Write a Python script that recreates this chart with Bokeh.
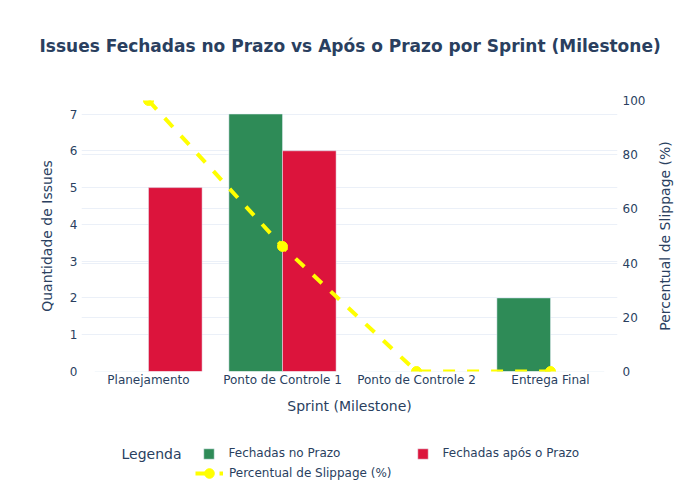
from bokeh.plotting import figure
from bokeh.layouts import column, row
from bokeh.models import (FactorRange, Range1d, LinearAxis, Legend, LegendItem, Label, Title,
                          ColumnDataSource, Grid, FixedTicker)
from bokeh.transform import dodge
from bokeh.embed import file_html
from bokeh.resources import INLINE

# ---- data ----
sprints = ["Planejamento", "Ponto de Controle 1", "Ponto de Controle 2", "Entrega Final"]
fechadas_no_prazo = [0, 7, 0, 2]
fechadas_apos_prazo = [5, 6, 0, 0]
slippage_pct = [100.0, 46.15, 0.0, 0.0]
left_ticks = [0, 1, 2, 3, 4, 5, 6, 7]
right_ticks = [0, 20, 40, 60, 80, 100]

FONT = "DejaVu Sans"
TXT = "#2a3f5f"
GRID = "#EBF0F8"
GREEN = "#2E8B57"
RED = "#DC143C"
YELLOW = "#FFFF00"
W = 684
MAIN_W = 654
MAIN_H = 366


def bare_fig(w, h, top=0, left=0):
    f = figure(width=w, height=h, x_range=Range1d(0, 1), y_range=Range1d(0, 1),
               output_backend="svg", toolbar_location=None,
               x_axis_location=None, y_axis_location=None,
               min_border_left=left, min_border_right=0,
               min_border_top=top, min_border_bottom=0)
    f.grid.visible = False
    f.outline_line_color = None
    return f


# ---- title strip (title lives in the side panel, so it is not clipped) ----
tf = bare_fig(W, 60, top=55, left=81)
tf.title.text = "Issues Fechadas no Prazo vs Após o Prazo por Sprint (Milestone)"
tf.title.align = "left"
tf.title.offset = -42
tf.title.vertical_align = "bottom"
tf.title.standoff = 0
tf.title.text_font = FONT
tf.title.text_font_size = "17px"
tf.title.text_font_style = "bold"
tf.title.text_color = TXT

# ---- main chart ----
src = ColumnDataSource(dict(sprint=sprints, no=fechadas_no_prazo,
                            apos=fechadas_apos_prazo, slip=slippage_pct))

p = figure(width=MAIN_W, height=MAIN_H,
           x_range=FactorRange(factors=sprints, range_padding=0),
           y_range=Range1d(0, 7.368),
           output_backend="svg", toolbar_location=None,
           min_border_left=81, min_border_right=37,
           min_border_top=40, min_border_bottom=55)
p.extra_y_ranges = {"pct": Range1d(0, 100)}
p.outline_line_color = None


def style_axis(ax):
    ax.axis_line_color = None
    ax.major_tick_line_color = None
    ax.minor_tick_line_color = None
    ax.major_tick_in = 0
    ax.major_tick_out = 0
    ax.major_label_text_font = FONT
    ax.major_label_text_font_size = "12px"
    ax.major_label_text_color = TXT
    ax.axis_label_text_font = FONT
    ax.axis_label_text_font_size = "14px"
    ax.axis_label_text_font_style = "normal"
    ax.axis_label_text_color = TXT


p.xaxis.axis_label = "Sprint (Milestone)"
p.yaxis.axis_label = "Quantidade de Issues"
p.yaxis.ticker = FixedTicker(ticks=left_ticks)
style_axis(p.xaxis[0])
style_axis(p.yaxis[0])
p.xaxis.major_label_standoff = 1
p.xaxis.axis_label_standoff = 8
p.yaxis.major_label_standoff = 4
p.yaxis.axis_label_standoff = 12

right_axis = LinearAxis(y_range_name="pct", ticker=FixedTicker(ticks=right_ticks))
style_axis(right_axis)
right_axis.major_label_standoff = 5
p.add_layout(right_axis, "right")

p.xgrid.grid_line_color = None
p.ygrid.grid_line_color = GRID
p.ygrid.ticker = FixedTicker(ticks=left_ticks)
p.add_layout(Grid(dimension=1, ticker=FixedTicker(ticks=right_ticks),
                  y_range_name="pct", grid_line_color=GRID))

p.vbar(x=dodge("sprint", -0.2, range=p.x_range), top="no", width=0.4, source=src,
       fill_color=GREEN, line_color="#E5ECF6", line_width=0.5)
p.vbar(x=dodge("sprint", 0.2, range=p.x_range), top="apos", width=0.4, source=src,
       fill_color=RED, line_color="#E5ECF6", line_width=0.5)
p.line("sprint", "slip", source=src, y_range_name="pct",
       line_color=YELLOW, line_width=4, line_dash="12 12")
p.scatter("sprint", "slip", source=src, y_range_name="pct",
          size=10, fill_color=YELLOW, line_color=YELLOW)

# ---- right strip: secondary axis title, reading bottom-to-top ----
rs = bare_fig(W - MAIN_W, MAIN_H, top=40, left=16)
rs.min_border_bottom = 55
rs.add_layout(Title(text="Percentual de Slippage (%)", align="center",
                    vertical_align="bottom", standoff=0, text_font=FONT,
                    text_font_size="14px", text_font_style="normal",
                    text_color=TXT), "left")

# ---- legend strip (swatch renderers sit outside the strip's visible range) ----
lf = bare_fig(W, 58, left=81)
proxy = ColumnDataSource(dict(x=[-1.0], y=[-1.0]))
s_no = lf.vbar(x="x", top="y", width=0.1, source=proxy,
               fill_color=GREEN, line_color="#E5ECF6", line_width=0.5)
s_ap = lf.vbar(x="x", top="y", width=0.1, source=proxy,
               fill_color=RED, line_color="#E5ECF6", line_width=0.5)
s_ln = lf.line(x="x", y="y", source=proxy, line_color=YELLOW, line_width=4, line_dash="12 12")
s_pt = lf.scatter(x="x", y="y", source=proxy, size=10, fill_color=YELLOW, line_color=YELLOW)

leg1 = Legend(items=[LegendItem(label="Fechadas no Prazo", renderers=[s_no]),
                     LegendItem(label="Fechadas após o Prazo", renderers=[s_ap])],
              orientation="horizontal", location=(120.5, 24),
              glyph_width=13, glyph_height=13, label_standoff=14, spacing=37,
              label_width=150, padding=0, margin=0, border_line_color=None,
              background_fill_alpha=0, label_text_font=FONT,
              label_text_font_size="12px", label_text_color=TXT)
leg2 = Legend(items=[LegendItem(label="Percentual de Slippage (%)", renderers=[s_ln, s_pt])],
              orientation="horizontal", location=(114, -1),
              glyph_width=28, glyph_height=24, label_standoff=6,
              padding=0, margin=0, border_line_color=None,
              background_fill_alpha=0, label_text_font=FONT,
              label_text_font_size="12px", label_text_color=TXT)
lf.add_layout(leg1)
lf.add_layout(leg2)
lf.add_layout(Label(x=40, y=31, x_units="screen", y_units="screen", text="Legenda",
                    text_font=FONT, text_font_size="14px", text_color=TXT,
                    text_baseline="middle", text_align="left"))

layout = column(tf, row(p, rs, spacing=0), lf, spacing=0)
open("out.html", "w").write(file_html(layout, INLINE))
